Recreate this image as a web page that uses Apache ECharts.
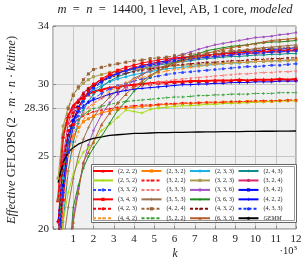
<!DOCTYPE html>
<html><head><meta charset="utf-8">
<script src="https://cdn.jsdelivr.net/npm/echarts@6/dist/echarts.min.js"></script>
<style>html,body{margin:0;padding:0;background:#fff}#c{width:307px;height:265px}</style>
</head><body><div id="c"></div>
<script>
// k values (in units of 10^3)
const kValues = [0.25,0.5,0.75,1,1.25,1.5,1.75,2, 2.4,2.8,3.2,3.6,4,4.4,4.8,5.2,5.6,6, 6.4,6.8,7.2,7.6,8,8.4,8.8,9.2,9.6,10, 10.4,10.8,11.2,11.6,12];
const yTicks = [20,25,28.36,30,34];

const s222 = [22.0,26.4,27.8,28.5,28.85,29.1,29.3,29.5, 29.6,29.75,29.8,29.9,29.95,30.0,30.05,30.1,30.1,30.15, 30.15,30.2,30.2,30.2,30.25,30.25,30.25,30.3,30.25,30.3, 30.3,30.3,30.35,30.3,30.35];
const s232 = [17.5,23.0,25.3,26.4,27.0,27.4,27.6,27.8, 28.0,28.15,28.25,28.35,28.4,28.45,28.5,28.55,28.6,28.6, 28.65,28.65,28.7,28.7,28.7,28.75,28.75,28.75,28.8,28.8, 28.8,28.8,28.85,28.85,28.85];
const s233 = [18.5,23.5,26.0,27.5,28.3,28.9,29.3,29.6, 29.9,30.15,30.35,30.5,30.65,30.75,30.85,30.95,31.05,31.1, 31.15,31.2,31.25,31.3,31.35,31.4,31.45,31.45,31.5,31.55, 31.55,31.6,31.6,31.65,31.7];
const s243 = [14,20.5,24.0,26.0,27.3,28.2,28.8,29.3, 29.8,30.2,30.5,30.7,30.9,31.05,31.2,31.3,31.4,31.5, 31.55,31.6,31.7,31.75,31.8,31.85,31.9,31.9,31.95,32.0, 32.0,32.05,32.05,32.1,32.1];
const s252 = [16,20.5,22.5,23.8,24.6,25.3,25.6,26.0, 26.8,27.2,27.7,28.2,28.1,28.0,28.25,28.35,28.4,28.45, 28.5,28.5,28.55,28.6,28.6,28.65,28.65,28.7,28.7,28.75, 28.75,28.8,28.8,28.85,28.85];
const s322 = [20.5,25.0,26.5,27.2,27.55,27.8,27.95,28.1, 28.2,28.3,28.4,28.45,28.5,28.55,28.55,28.6,28.65,28.65, 28.7,28.7,28.7,28.75,28.75,28.75,28.8,28.8,28.8,28.85, 28.85,28.85,28.85,28.9,28.9];
const s323 = [23.5,27.1,28.4,29.3,29.7,30.05,30.3,30.5, 30.65,30.8,30.9,30.95,31.0,31.05,31.1,31.15,31.2,31.25, 31.3,31.3,31.35,31.4,31.4,31.45,31.45,31.5,31.5,31.55, 31.55,31.6,31.6,31.6,31.65];
const s324 = [19.5,25.0,27.3,28.3,28.9,29.4,29.7,30.0, 30.3,30.55,30.75,30.9,31.05,31.15,31.3,31.4,31.5,31.55, 31.65,31.7,31.8,31.85,31.9,31.95,32.0,32.05,32.1,32.1, 32.15,32.2,32.2,32.25,32.3];
const s332 = [18.5,23.0,25.5,27.0,27.8,28.4,28.75,29.0, 29.35,29.65,29.9,30.05,30.2,30.35,30.45,30.55,30.65,30.75, 30.8,30.85,30.9,30.95,31.0,31.05,31.1,31.15,31.2,31.2, 31.25,31.3,31.3,31.35,31.4];
const s333 = [17.5,22.5,25.0,26.5,27.4,28.0,28.4,28.7, 29.0,29.3,29.5,29.65,29.8,29.9,30.0,30.1,30.2,30.3, 30.35,30.4,30.45,30.5,30.55,30.6,30.65,30.7,30.7,30.75, 30.8,30.8,30.85,30.85,30.9];
const s336 = [5,12,17,20.8,22.8,24.5,25.8,26.8, 27.9,28.7,29.3,29.8,30.25,30.65,31.0,31.3,31.6,31.85, 32.05,32.2,32.4,32.55,32.7,32.8,32.9,33.0,33.1,33.2, 33.25,33.3,33.4,33.45,33.55];
const s342 = [18.5,23.0,26.0,27.5,28.4,29.0,29.45,29.8, 30.2,30.5,30.75,30.95,31.1,31.25,31.4,31.5,31.6,31.7, 31.8,31.85,31.95,32.0,32.05,32.1,32.15,32.2,32.25,32.3, 32.35,32.4,32.4,32.45,32.5];
const s343 = [16,22,25.3,27.2,28.3,29.0,29.5,29.9, 30.35,30.7,30.95,31.15,31.3,31.45,31.55,31.65,31.75,31.8, 31.85,31.9,31.95,32.0,32.05,32.1,32.1,32.15,32.2,32.2, 32.25,32.25,32.3,32.3,32.35];
const s353 = [8,19,21.5,23.5,25.0,26.2,27.0,27.7, 28.5,29.1,29.6,30.0,30.4,30.65,30.9,31.1,31.3,31.5, 31.6,31.75,31.85,31.95,32.05,32.15,32.2,32.3,32.35,32.45, 32.5,32.55,32.6,32.65,32.7];
const s363 = [4,11,17,21.5,23.0,24.2,25.0,25.6, 26.4,27.3,28.2,28.8,29.5,30.0,30.5,30.9,31.2,31.5, 31.7,31.9,32.1,32.3,32.4,32.5,32.6,32.65,32.7,32.8, 32.85,32.9,32.9,32.95,33.0];
const s422 = [20.5,24.5,26.5,27.5,28.1,28.5,28.75,28.9, 29.1,29.3,29.45,29.55,29.65,29.7,29.75,29.8,29.85,29.9, 29.95,29.95,30.0,30.0,30.05,30.05,30.1,30.1,30.1,30.15, 30.15,30.15,30.2,30.2,30.2];
const s423 = [20.5,24.5,26.8,28.0,28.8,29.3,29.7,30.0, 30.35,30.6,30.85,31.0,31.15,31.3,31.4,31.5,31.6,31.7, 31.75,31.8,31.9,31.95,32.0,32.05,32.1,32.15,32.2,32.2, 32.25,32.3,32.3,32.35,32.4];
const s424 = [22,26.5,28.3,29.2,29.8,30.3,30.7,31.0, 31.15,31.3,31.4,31.5,31.6,31.65,31.75,31.8,31.85,31.95, 32.0,32.05,32.1,32.15,32.2,32.25,32.3,32.3,32.35,32.4, 32.45,32.45,32.5,32.5,32.55];
const s432 = [19.5,24.0,26.5,27.8,28.7,29.3,29.65,29.9, 30.2,30.45,30.6,30.75,30.85,30.95,31.05,31.1,31.2,31.3, 31.35,31.4,31.45,31.5,31.5,31.55,31.6,31.6,31.65,31.7, 31.7,31.75,31.75,31.8,31.8];
const s433 = [17,22.5,25.3,27.0,28.1,28.8,29.3,29.7, 30.1,30.45,30.7,30.9,31.05,31.2,31.3,31.4,31.5,31.6, 31.65,31.7,31.8,31.85,31.9,31.95,32.0,32.05,32.1,32.15, 32.15,32.2,32.25,32.25,32.3];
const s442 = [15,21.5,24.0,25.5,26.7,27.5,28.1,28.6, 29.1,29.5,29.85,30.1,30.3,30.45,30.6,30.75,30.9,31.0, 31.05,31.15,31.2,31.3,31.35,31.4,31.45,31.5,31.5,31.55, 31.6,31.6,31.65,31.65,31.7];
const s522 = [19,24.0,26.0,27.0,27.5,27.9,28.1,28.3, 28.45,28.6,28.7,28.8,28.85,28.9,28.95,29.0,29.05,29.1, 29.1,29.15,29.2,29.2,29.25,29.25,29.3,29.3,29.3,29.35, 29.35,29.35,29.4,29.4,29.4];
const s633 = [3,10,16,20.5,22.5,24.6,25.3,26.0, 27.2,28.0,28.7,29.3,29.8,30.2,30.6,30.9,31.2,31.4, 31.6,31.8,31.95,32.1,32.25,32.4,32.5,32.6,32.7,32.8, 32.9,33.0,33.05,33.1,33.15];
const gemm = [23.2,24.6,25.3,25.6,25.85,26.0,26.15,26.25, 26.35,26.45,26.5,26.55,26.6,26.6,26.62,26.64,26.65,26.66, 26.67,26.68,26.69,26.7,26.7,26.71,26.72,26.72,26.73,26.73, 26.74,26.74,26.75,26.75,26.76];

const PLUS = 'path://M4,0H6V4H10V6H6V10H4V6H0V4H4Z';
const STAR = 'path://M5,0L6.2,3.6H10L7,5.9L8.1,9.5L5,7.3L1.9,9.5L3,5.9L0,3.6H3.8Z';
const DASH = [3, 2];

// name, data, color, dashed, symbol, lineWidth, symbolSize
const specs = [
  ['(2, 2, 2)', s222, '#ff0000', false, 'triangle', 2, 4.5],
  ['(2, 3, 2)', s232, '#ff8000', false, 'rect', 1, 3],
  ['(2, 3, 3)', s233, '#1ab2e8', false, 'circle', 1, 3],
  ['(2, 4, 3)', s243, '#0f8c8c', false, 'diamond', 1, 3],
  ['(2, 5, 2)', s252, '#a6dc10', false, PLUS, 1, 3.5],
  ['(3, 2, 2)', s322, '#ff1010', true, STAR, 1, 3.5],
  ['(3, 2, 3)', s323, '#aa9c50', false, 'rect', 1, 3],
  ['(3, 2, 4)', s324, '#d8286c', false, 'circle', 1, 3],
  ['(3, 3, 2)', s332, '#3048ff', true, 'circle', 1, 3],
  ['(3, 3, 3)', s333, '#ff7878', true, STAR, 1, 3.5],
  ['(3, 3, 6)', s336, '#a452c4', false, 'circle', 1, 2.5],
  ['(3, 4, 2)', s342, '#0000ff', false, 'rect', 1, 3],
  ['(3, 4, 3)', s343, '#ff0000', false, 'rect', 1, 3],
  ['(3, 5, 3)', s353, '#9c7050', false, PLUS, 1, 3.5],
  ['(3, 6, 3)', s363, '#1f8a1f', false, PLUS, 1, 3],
  ['(4, 2, 2)', s422, '#0000ff', false, PLUS, 1, 3.5],
  ['(4, 2, 3)', s423, '#ff0000', true, 'circle', 1, 3],
  ['(4, 2, 4)', s424, '#9a6438', true, 'rect', 1, 3],
  ['(4, 3, 2)', s432, '#8a0a0a', true, STAR, 1, 3.5],
  ['(4, 3, 3)', s433, '#1030ff', true, 'circle', 1, 3],
  ['(4, 4, 2)', s442, '#ff9424', true, PLUS, 1, 3.5],
  ['(5, 2, 2)', s522, '#34a034', true, PLUS, 1, 3],
  ['(6, 3, 3)', s633, '#b45c26', false, 'triangle', 1, 3.5],
  ['GEMM', gemm, '#000000', false, 'none', 1.3, 0]
];

const legendCols = [
  ['(2, 2, 2)','(2, 5, 2)','(3, 3, 2)','(3, 4, 3)','(4, 2, 3)','(4, 4, 2)'],
  ['(2, 3, 2)','(3, 2, 2)','(3, 3, 3)','(3, 5, 3)','(4, 2, 4)','(5, 2, 2)'],
  ['(2, 3, 3)','(3, 2, 3)','(3, 3, 6)','(3, 6, 3)','(4, 3, 2)','(6, 3, 3)'],
  ['(2, 4, 3)','(3, 2, 4)','(3, 4, 2)','(4, 2, 2)','(4, 3, 3)','GEMM']
];

const SERIF = 'Liberation Serif';
const chart = echarts.init(document.getElementById('c'), null, {renderer: 'canvas'});

const series = specs.map(s => ({
  name: s[0], type: 'line', animation: false,
  data: kValues.map((k, i) => [k, s[1][i]]),
  symbol: s[4], symbolSize: s[6], showSymbol: s[4] !== 'none',
  lineStyle: {color: s[2], width: s[5], type: s[3] ? DASH : 'solid'},
  itemStyle: {color: s[2]},
  emphasis: {disabled: true},
  clip: true
}));

const legendX = [92, 140.5, 189, 237.5];
const legends = legendCols.map((col, ci) => ({
  data: col, orient: 'vertical', left: legendX[ci], top: 168,
  itemWidth: 20, itemHeight: 4, itemGap: 3.45, padding: 0, z: 20,
  selectedMode: false,
  formatter: n => n === 'GEMM' ? '{i|GEMM}' : n,
  textStyle: {fontFamily: SERIF, fontSize: 6, color: '#222', lineHeight: 6,
    rich: {i: {fontStyle: 'italic', fontFamily: SERIF, fontSize: 6, color: '#222'}}}
}));

const option = {
  animation: false,
  backgroundColor: '#ffffff',
  grid: {left: 53, top: 26, right: 11, bottom: 36, show: true,
    backgroundColor: '#f0f0f0', borderColor: '#777', borderWidth: 1},
  xAxis: {
    type: 'value', min: 0, max: 12, interval: 1,
    axisLine: {show: false},
    axisTick: {show: true, inside: true, length: 3, lineStyle: {color: '#888'}},
    axisLabel: {formatter: v => v === 0 ? '' : String(v), fontFamily: SERIF, fontSize: 11, color: '#222', margin: 5},
    splitLine: {show: true, lineStyle: {color: '#c6c6c6', width: 1}}
  },
  yAxis: {
    type: 'value', min: 20, max: 34,
    axisLine: {show: false},
    axisTick: {show: true, inside: true, length: 3, customValues: yTicks, lineStyle: {color: '#888'}},
    axisLabel: {customValues: yTicks, formatter: v => String(v), fontFamily: SERIF, fontSize: 11, color: '#222', margin: 4},
    splitLine: {show: true, lineStyle: {color: '#c6c6c6', width: 1}}
  },
  legend: legends,
  graphic: [
    {type: 'rect', z: 15, shape: {x: 91.5, y: 164.5, width: 205, height: 58},
      style: {fill: '#ffffff', stroke: '#666', lineWidth: 1}},
    {type: 'rect', z: 16, shape: {x: 93.5, y: 166.5, width: 201, height: 54},
      style: {fill: null, stroke: '#999', lineWidth: 1}},
    {type: 'text', z: 30, x: 175, y: 10,
      style: {text: '{i|m}  =  {i|n}  =  14400, 1 level, AB, 1 core, {i|modeled}',
        align: 'center', verticalAlign: 'middle', fill: '#222', font: '12.5px "Liberation Serif"',
        rich: {i: {fontStyle: 'italic', fontFamily: SERIF, fontSize: 12.5, fill: '#222'}}}},
    {type: 'text', z: 30, x: 12, y: 130, rotation: Math.PI / 2,
      style: {text: '{i|Effective} GFLOPS (2 · {i|m} · {i|n} · {i|k}/{i|time})',
        align: 'center', verticalAlign: 'middle', fill: '#222', font: '12.5px "Liberation Serif"',
        rich: {i: {fontStyle: 'italic', fontFamily: SERIF, fontSize: 12.5, fill: '#222'}}}},
    {type: 'text', z: 30, x: 175, y: 254,
      style: {text: 'k', align: 'center', verticalAlign: 'middle', fill: '#222',
        font: 'italic 11.5px "Liberation Serif"'}},
    {type: 'text', z: 30, x: 297, y: 251,
      style: {text: '·10{s|3}', align: 'right', verticalAlign: 'middle', fill: '#222',
        font: '10.5px "Liberation Serif"',
        rich: {s: {fontFamily: SERIF, fontSize: 7, verticalAlign: 'top', padding: [0, 0, 6, 0], fill: '#222'}}}}
  ],
  series: series
};
chart.setOption(option);
</script>
</body></html>
